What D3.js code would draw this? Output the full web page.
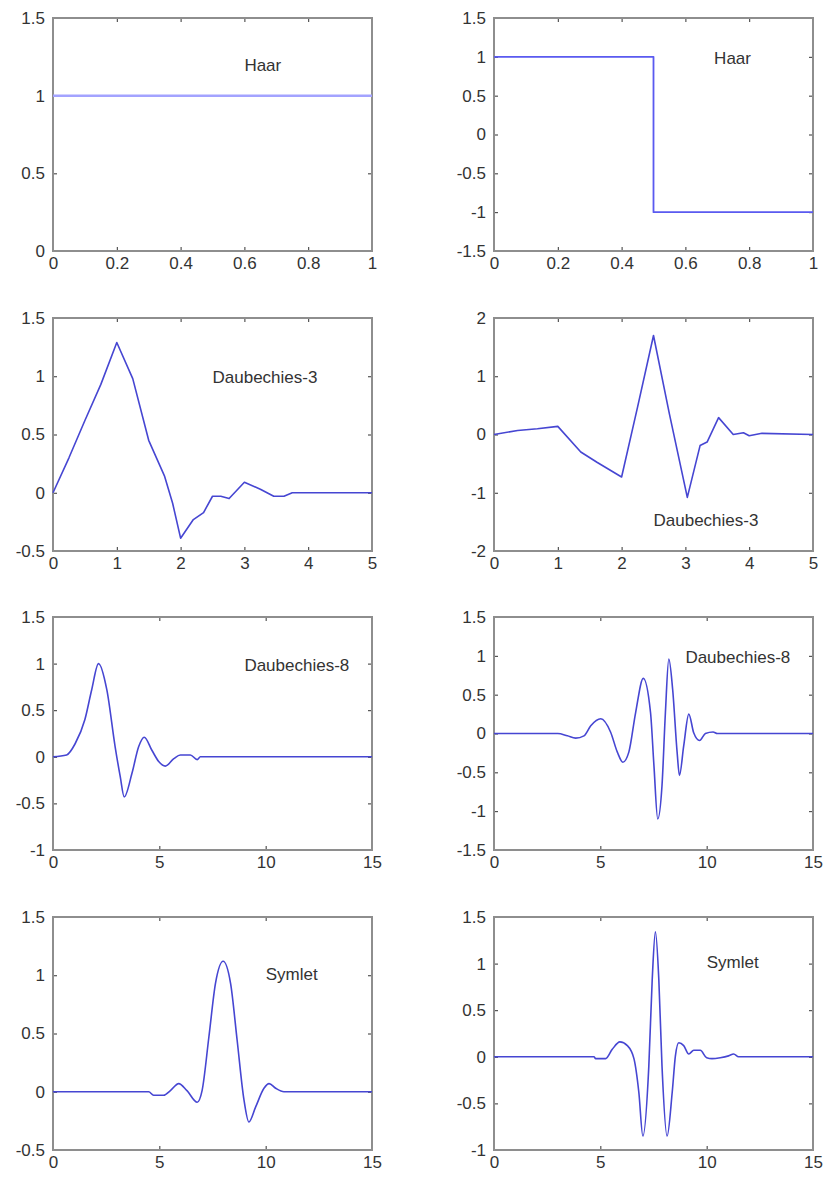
<!DOCTYPE html>
<html>
<head>
<meta charset="utf-8">
<script src="https://cdn.jsdelivr.net/npm/d3@7"></script>
<style>
  html, body { margin: 0; padding: 0; background: #fff; }
</style>
</head>
<body>
<div id="chart"></div>
<script>
// wavelet curves (x, value)
const haarPhiX = [0, 1];
const haarPhiY = [1, 1];
const haarPsiX = [0, 0.5, 0.5, 1];
const haarPsiY = [1, 1, -1, -1];

const db3PhiX = [0, 0.25, 0.5, 0.75, 1.0, 1.25, 1.5, 1.75, 1.875, 2.0, 2.2, 2.36, 2.5, 2.63, 2.76, 3.0, 3.25, 3.46, 3.62, 3.75, 4.0, 4.5, 5.0];
const db3PhiY = [0, 0.30, 0.62, 0.93, 1.29, 0.98, 0.45, 0.14, -0.09, -0.39, -0.23, -0.17, -0.03, -0.03, -0.05, 0.09, 0.03, -0.03, -0.03, 0.0, 0.0, 0.0, 0.0];

const db3PsiX = [0, 0.37, 0.68, 1.0, 1.36, 1.62, 2.0, 2.25, 2.5, 2.75, 3.03, 3.23, 3.34, 3.52, 3.75, 3.91, 4.0, 4.2, 5.0];
const db3PsiY = [0, 0.07, 0.1, 0.14, -0.3, -0.48, -0.73, 0.47, 1.70, 0.35, -1.08, -0.19, -0.13, 0.29, 0.0, 0.03, -0.02, 0.02, 0];

const db8PhiX = [0, 0.64, 1.04, 1.5, 1.82, 2.14, 2.53, 2.92, 3.16, 3.35, 3.71, 4.03, 4.29, 4.65, 4.97, 5.28, 5.68, 5.99, 6.46, 6.78, 6.93, 8, 15];
const db8PhiY = [0, 0.02, 0.14, 0.4, 0.72, 1.0, 0.72, 0.11, -0.21, -0.43, -0.18, 0.11, 0.21, 0.07, -0.05, -0.1, -0.02, 0.02, 0.02, -0.03, 0, 0, 0];

const db8PsiX = [0, 3.0, 3.45, 3.84, 4.23, 4.55, 5.02, 5.48, 5.8, 6.06, 6.34, 6.66, 7.02, 7.36, 7.52, 7.70, 7.9, 8.06, 8.22, 8.4, 8.61, 8.72, 8.92, 9.16, 9.39, 9.67, 9.94, 10.3, 10.5, 15];
const db8PsiY = [0, 0, -0.03, -0.06, -0.03, 0.1, 0.19, 0.02, -0.24, -0.37, -0.24, 0.27, 0.71, 0.27, -0.41, -1.1, -0.67, 0.27, 0.96, 0.57, -0.24, -0.54, -0.16, 0.25, 0.01, -0.09, 0.0, 0.02, 0, 0];

const symPhiX = [0, 4.5, 4.73, 5.2, 5.52, 5.91, 6.3, 6.78, 7.01, 7.33, 7.64, 8.0, 8.35, 8.66, 8.98, 9.21, 9.53, 9.92, 10.16, 10.47, 10.86, 15];
const symPhiY = [0, 0, -0.03, -0.03, 0.01, 0.07, 0.01, -0.09, 0.01, 0.47, 0.93, 1.12, 0.93, 0.44, -0.07, -0.26, -0.13, 0.03, 0.07, 0.03, 0, 0];

const symPsiX = [0, 4.7, 4.78, 5.25, 5.56, 5.92, 6.27, 6.58, 6.81, 7.0, 7.28, 7.44, 7.59, 7.75, 7.9, 8.14, 8.38, 8.53, 8.69, 8.92, 9.16, 9.39, 9.7, 10.0, 10.25, 10.64, 11.03, 11.27, 11.5, 15];
const symPsiY = [0, 0, -0.02, -0.02, 0.08, 0.16, 0.12, -0.02, -0.38, -0.85, -0.1, 0.83, 1.34, 0.83, -0.1, -0.85, -0.38, 0.01, 0.15, 0.12, 0.03, 0.07, 0.07, -0.01, -0.02, -0.01, 0.01, 0.03, 0, 0];

// tick values
const xTicks1 = [0, 0.2, 0.4, 0.6, 0.8, 1];
const xTicks5 = [0, 1, 2, 3, 4, 5];
const xTicks15 = [0, 5, 10, 15];
const yTicksA = [0, 0.5, 1, 1.5];
const yTicksB = [-1.5, -1, -0.5, 0, 0.5, 1, 1.5];
const yTicksC = [-0.5, 0, 0.5, 1, 1.5];
const yTicksD = [-2, -1, 0, 1, 2];
const yTicksE = [-1, -0.5, 0, 0.5, 1, 1.5];

const titles = ["Haar", "Haar", "Daubechies-3", "Daubechies-3", "Daubechies-8", "Daubechies-8", "Symlet", "Symlet"];

const width = 827, height = 1178;
const colX = [53, 494];
const rowY = [18, 318, 617, 917];
const pw = 319, ph = 233;
const font = "'Liberation Sans', Arial, Helvetica, sans-serif";

const panels = [
  { xs: haarPhiX, ys: haarPhiY, xd: [0, 1], yd: [0, 1.5], xt: xTicks1, yt: yTicksA, title: titles[0], tx: 0.6, ty: 1.19, color: "#a3a3ff", sw: 2.5, smooth: false },
  { xs: haarPsiX, ys: haarPsiY, xd: [0, 1], yd: [-1.5, 1.5], xt: xTicks1, yt: yTicksB, title: titles[1], tx: 0.69, ty: 0.96, color: "#5a5af0", sw: 1.8, smooth: false },
  { xs: db3PhiX, ys: db3PhiY, xd: [0, 5], yd: [-0.5, 1.5], xt: xTicks5, yt: yTicksC, title: titles[2], tx: 2.5, ty: 0.98, color: "#4646d2", sw: 1.6, smooth: false },
  { xs: db3PsiX, ys: db3PsiY, xd: [0, 5], yd: [-2, 2], xt: xTicks5, yt: yTicksD, title: titles[3], tx: 2.5, ty: -1.5, color: "#4646d2", sw: 1.6, smooth: false },
  { xs: db8PhiX, ys: db8PhiY, xd: [0, 15], yd: [-1, 1.5], xt: xTicks15, yt: yTicksE, title: titles[4], tx: 9, ty: 0.97, color: "#4646d2", sw: 1.6, smooth: true },
  { xs: db8PsiX, ys: db8PsiY, xd: [0, 15], yd: [-1.5, 1.5], xt: xTicks15, yt: yTicksB, title: titles[5], tx: 9, ty: 0.97, color: "#4646d2", sw: 1.6, smooth: true },
  { xs: symPhiX, ys: symPhiY, xd: [0, 15], yd: [-0.5, 1.5], xt: xTicks15, yt: yTicksC, title: titles[6], tx: 10, ty: 1.0, color: "#4646d2", sw: 1.6, smooth: true },
  { xs: symPsiX, ys: symPsiY, xd: [0, 15], yd: [-1, 1.5], xt: xTicks15, yt: yTicksE, title: titles[7], tx: 10, ty: 1.0, color: "#4646d2", sw: 1.6, smooth: true }
];

const svg = d3.select("#chart").append("svg")
  .attr("width", width).attr("height", height)
  .attr("xmlns", "http://www.w3.org/2000/svg");

svg.append("rect").attr("width", width).attr("height", height).attr("fill", "#fff");

const fmt = d => String(d);

panels.forEach((p, i) => {
  const g = svg.append("g")
    .attr("transform", `translate(${colX[i % 2]},${rowY[Math.floor(i / 2)]})`);

  const x = d3.scaleLinear().domain(p.xd).range([0, pw]);
  const y = d3.scaleLinear().domain(p.yd).range([ph, 0]);

  // axes, inward ticks on all four sides
  const styleAxis = (a, labels) => {
    a.select(".domain").remove();
    a.selectAll(".tick line").attr("stroke", "#333").attr("stroke-width", 1);
    a.selectAll(".tick text")
      .attr("fill", "#333")
      .style("font-family", font)
      .style("font-size", "17px");
    if (!labels) a.selectAll(".tick text").remove();
  };

  g.append("g").attr("transform", `translate(0,${ph})`)
    .call(d3.axisBottom(x).tickValues(p.xt).tickFormat(fmt).tickSize(-4).tickPadding(6))
    .call(a => styleAxis(a, true));
  g.append("g")
    .call(d3.axisTop(x).tickValues(p.xt).tickSize(-4))
    .call(a => styleAxis(a, false));
  g.append("g")
    .call(d3.axisLeft(y).tickValues(p.yt).tickFormat(fmt).tickSize(-4).tickPadding(8))
    .call(a => styleAxis(a, true));
  g.append("g").attr("transform", `translate(${pw},0)`)
    .call(d3.axisRight(y).tickValues(p.yt).tickSize(-4))
    .call(a => styleAxis(a, false));

  // frame
  g.append("rect")
    .attr("width", pw).attr("height", ph)
    .attr("fill", "none").attr("stroke", "#8e8e8e").attr("stroke-width", 2);

  // curve
  const pts = p.xs.map((v, k) => [v, p.ys[k]]);
  const line = d3.line()
    .x(d => x(d[0])).y(d => y(d[1]))
    .curve(p.smooth ? d3.curveMonotoneX : d3.curveLinear);
  g.append("path")
    .datum(pts)
    .attr("d", line)
    .attr("fill", "none")
    .attr("stroke", p.color)
    .attr("stroke-width", p.sw)
    .attr("stroke-linejoin", "round");

  // label
  g.append("text")
    .attr("x", x(p.tx)).attr("y", y(p.ty))
    .attr("dominant-baseline", "middle")
    .attr("fill", "#333")
    .style("font-family", font)
    .style("font-size", "17px")
    .text(p.title);
});
</script>
</body>
</html>
